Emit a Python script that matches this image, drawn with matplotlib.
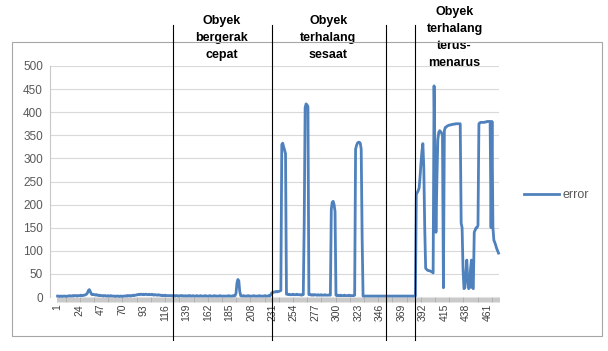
import matplotlib
matplotlib.use("Agg")
import matplotlib.pyplot as plt
import numpy as np
from matplotlib import transforms
from matplotlib.lines import Line2D
from matplotlib.patches import Rectangle

plt.rcParams["font.family"] = ["Liberation Sans", "DejaVu Sans"]

# error per frame (frames 1..473)
seg_fast_before = [
    2, 2, 1, 2, 2, 1, 2, 2, 2, 1, 2, 2, 2, 3, 2, 2, 3, 2, 3, 3,
    3, 2, 3, 3, 3, 4, 3, 3, 4, 4, 5, 6, 9, 14, 16, 12, 7, 5, 6, 5,
    5, 4, 5, 4, 3, 4, 3, 3, 3, 2, 3, 3, 2, 2, 3, 2, 2, 3, 2, 2,
    2, 2, 1, 2, 2, 2, 1, 2, 2, 1, 2, 2, 2, 2, 3, 2, 3, 3, 2, 3,
    3, 4, 3, 4, 4, 5, 5, 6, 5, 6, 6, 5, 6, 5, 6, 6, 5, 5, 6, 5,
    5, 6, 5, 4, 5, 5, 4, 4, 5, 4, 4, 3, 4, 3, 3, 4, 3, 3, 3, 3,
    3,
]
seg_fast = [
    3, 3, 2, 3, 3, 2, 3, 3, 2, 2, 3, 3, 2, 3, 2, 2, 3, 2, 2, 3,
    2, 3, 2, 2, 3, 2, 2, 2, 3, 2, 2, 2, 3, 2, 2, 2, 2, 3, 2, 2,
    2, 2, 3, 2, 2, 2, 2, 3, 2, 2, 2, 2, 2, 3, 2, 2, 2, 2, 2, 2,
    2, 2, 3, 2, 2, 2, 2, 3, 2, 3, 8, 30, 38, 35, 12, 3, 2, 2, 3, 2,
    2, 2, 2, 3, 2, 2, 2, 2, 2, 3, 2, 2, 2, 2, 2, 3, 2, 2, 2, 2,
    2, 3, 2, 2, 2, 3, 2,
]
seg_brief = [
    4, 8, 10, 10, 11, 11, 12, 11, 12, 12, 13, 14,
    330, 333, 325, 318, 310,
    6, 6, 5, 6, 5, 5, 5, 6, 5, 5, 5, 6, 5, 5, 5, 5, 4, 5, 5,
    160, 410, 418, 416, 412,
    5, 5, 5, 4, 5, 4, 5, 5, 4, 4, 5, 4, 4, 5, 4, 4, 4, 5, 4, 4, 4, 4, 5, 4,
    190, 205, 207, 200, 185,
    4, 3, 4, 3, 3, 4, 3, 3, 3, 4, 3, 3, 3, 3, 4, 3, 3, 3, 3, 3, 4,
    320, 328, 333, 335, 335, 333, 320, 130,
    2, 2, 2, 2, 2, 2, 2, 2, 2, 2, 2, 2, 2, 2, 2, 2, 2, 2, 2, 2, 2, 2, 2, 2, 2,
]
seg_gap = [
    2, 2, 2, 2, 2, 2, 2, 2, 2, 2, 2, 2, 2, 2, 2, 2,
    2, 2, 2, 2, 2, 2, 2, 2, 2, 2, 2, 2, 2, 2, 2, 2,
]
seg_constant = [
    222, 226, 230, 236, 260, 290, 315, 332, 280, 150,
    62, 60, 58, 57, 57, 56, 55, 54, 52,
    457, 300, 140, 250, 340, 356, 360, 358, 355, 350, 20, 360, 367,
    368, 370, 371, 372, 372, 373, 373, 374, 374, 374, 375, 375, 375, 375, 375, 375,
    160, 150, 60, 18, 20, 50, 80, 40, 18, 20, 60, 80, 20, 18, 140, 145, 150, 150, 155,
    375, 377, 378, 378, 378, 378, 378, 379, 379, 380, 380, 380, 380,
    150, 380, 150, 123, 118, 112, 105, 100, 95,
]
error = seg_fast_before + seg_fast + seg_brief + seg_gap + seg_constant

tick_labels = ["1", "24", "47", "70", "93", "116", "139", "162", "185", "208",
               "231", "254", "277", "300", "323", "346", "369", "392", "415",
               "438", "461"]
phase_bounds = [124.5, 230, 352.5, 383.5]
phase_labels = ["Obyek\nbergerak\ncepat", "Obyek\nterhalang\nsesaat",
                "Obyek\nterhalang\nterus-\nmenarus"]
phase_label_x = [177, 291, 426]

W, H = 608, 351


def fx(px):
    return px / W


def fy(py):
    return 1 - py / H


fig = plt.figure(figsize=(W / 100, H / 100), dpi=100)
fig.add_artist(Rectangle((fx(12), fy(336)), fx(602) - fx(12), fy(42) - fy(336),
                         fill=False, edgecolor="#a6a6a6", lw=0.8,
                         transform=fig.transFigure))

ax = fig.add_axes([fx(50), fy(297), fx(499) - fx(50), fy(66) - fy(297)])
x = np.arange(1, len(error) + 1)
(line,) = ax.plot(x, error, color="#4F81BD", lw=2.0, solid_joinstyle="round",
                  label="error", clip_on=False)

ax.set_xlim(-7.1, len(error) + 0.5)
ax.set_ylim(0, 500)
ax.set_yticks(range(0, 501, 50))
ax.grid(axis="y", color="#d9d9d9", lw=0.8)
ax.set_axisbelow(True)
for side in ["top", "right", "bottom"]:
    ax.spines[side].set_visible(False)
ax.spines["left"].set_color("#c8c8c8")
ax.spines["left"].set_linewidth(0.8)

ax.set_xticks([int(t) for t in tick_labels])
ax.set_xticklabels(tick_labels, rotation=90)
ax.set_xticks(np.arange(0.5, len(error) + 1, 1), minor=True)
ax.tick_params(axis="x", which="major", length=0, pad=5, labelsize=7.5,
               labelcolor="#404040")
ax.tick_params(axis="x", which="minor", length=3.5, width=0.4, color="#a0a0a0")
ax.tick_params(axis="y", length=0, pad=5, labelsize=8.5, labelcolor="#595959")

# phase separators and labels above the chart
blend = transforms.blended_transform_factory(ax.transData, fig.transFigure)
for b in phase_bounds:
    fig.add_artist(Line2D([b, b], [fy(25), fy(340)], color="black", lw=0.8,
                          transform=blend, clip_on=False))
for lx, txt in zip(phase_label_x, phase_labels):
    top = 6 if txt.count("\n") == 3 else 15
    ax.text(lx, fy(top), txt, transform=blend, ha="center", va="top",
            fontsize=9, fontweight="bold", linespacing=1.55, color="black")

fig.legend(handles=[line], loc="center left",
           bbox_to_anchor=(fx(524), fy(195)), frameon=False, fontsize=9,
           handlelength=2.8, handletextpad=0.3, borderpad=0,
           borderaxespad=0, labelcolor="#595959")

fig.savefig("out.png", dpi=100)
